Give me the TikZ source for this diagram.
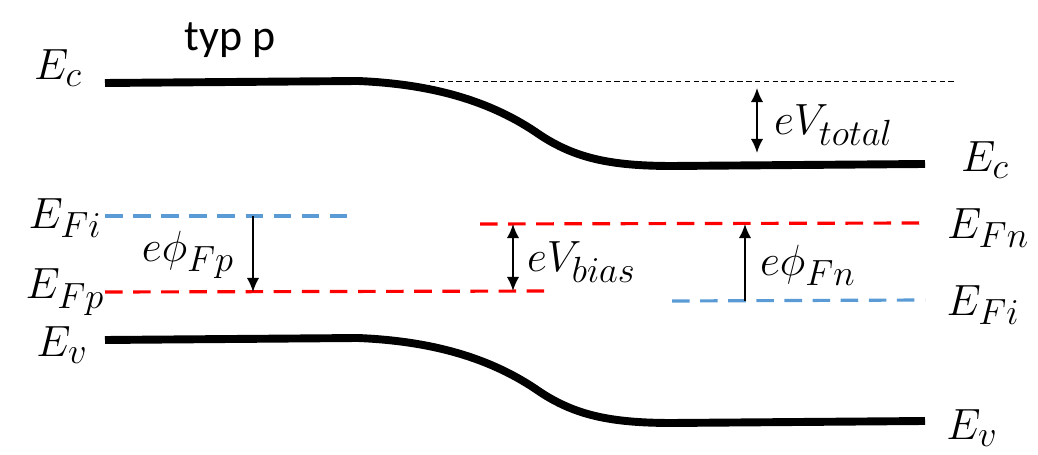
\documentclass[tikz,border=0pt]{standalone}
\usepackage{fontspec}
\usepackage{amsmath,amssymb}
\newfontfamily\calibri{Carlito}
\usetikzlibrary{arrows.meta}
\definecolor{fiblue}{RGB}{91,155,213}
\tikzset{
  band/.style={line width=4.5pt},
  fermi/.style={line width=1.8pt, dash pattern=on 10pt off 6pt},
  lvl/.style={font=\fontsize{28}{32}\selectfont, inner sep=1pt},
  gap/.style={line width=1pt, -{Latex[length=8pt,width=7pt]}},
  gapboth/.style={line width=1pt, {Latex[length=8pt,width=7pt]}-{Latex[length=8pt,width=7pt]}},
}

\begin{document}
\begin{tikzpicture}[x=0.02cm,y=-0.02cm]
    \useasboundingbox (0,0) rectangle (1038,455);

    \draw[band] (105,83) -- (358,81) .. controls (430,84) and (490,100) .. (540,135)
        .. controls (575,158) and (610,166) .. (672,166) -- (925,164);
    \draw[band] (105,340) -- (358,338) .. controls (430,341) and (490,357) .. (540,392)
        .. controls (575,415) and (610,423) .. (672,423) -- (925,421);
    \draw[line width=0.5pt, dash pattern=on 3pt off 2pt] (430,81) -- (955,81);

    \draw[fermi, fiblue] (105,216) -- (355,216);
    \draw[fermi, red] (105,292) -- (552,291);
    \draw[fermi, red] (480,224) -- (925,223);
    \draw[fermi, fiblue] (672,301) -- (925,300);

    \node[font=\calibri\fontsize{25}{29}\selectfont] (typp) at (230,40) {typ p};
    \node[lvl] (EcL) at (58,68) {$E_c$};
    \node[lvl] (EcR) at (985,160) {$E_c$};
    \node[lvl] (EFiL) at (65,218) {$E_{Fi}$};
    \node[lvl] (EFpL) at (65,292) {$E_{Fp}$};
    \node[lvl] (EvL) at (62,345) {$E_v$};
    \node[lvl] (EFnR) at (988,228) {$E_{Fn}$};
    \node[lvl] (EFiR) at (983,305) {$E_{Fi}$};
    \node[lvl] (EvR) at (972,428) {$E_v$};

    \coordinate (totTop) at (757,88);
    \coordinate (totBot) at (757,153);
    \coordinate (fpTop) at (253,216);
    \coordinate (fpBot) at (253,292);
    \coordinate (biasTop) at (513,224);
    \coordinate (biasBot) at (513,291);
    \coordinate (fnBot) at (745,301);
    \coordinate (fnTop) at (745,224);

    \draw[gapboth] (totTop) -- (totBot);
    \draw[gap] (fpTop) -- (fpBot);
    \draw[gapboth] (biasTop) -- (biasBot);
    \draw[gap] (fnBot) -- (fnTop);

    \node[lvl, anchor=west] (vtot) at (772,125) {$eV_{total}$};
    \node[lvl] (phifp) at (188,255) {$e\phi_{Fp}$};
    \node[lvl, anchor=west] (vbias) at (525,262) {$eV_{bias}$};
    \node[lvl, anchor=west] (phifn) at (758,265) {$e\phi_{Fn}$};
\end{tikzpicture}
\end{document}
